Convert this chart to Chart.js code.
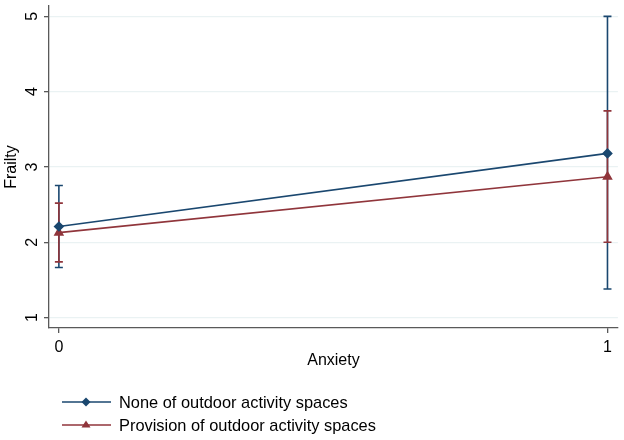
<!DOCTYPE html>
<html>
<head>
<meta charset="utf-8">
<script src="https://cdn.jsdelivr.net/npm/chart.js@4"></script>
<style>
  html, body { margin: 0; padding: 0; background: #fff; }
  #wrap { width: 624px; height: 440px; position: relative; }
</style>
</head>
<body>
<div id="wrap"><canvas id="chart"></canvas></div>
<script>
// Data
const anxiety = [0, 1];
const seriesNames = ['None of outdoor activity spaces', 'Provision of outdoor activity spaces'];
const noneMean = [2.21, 3.18];
const noneLow = [1.665, 1.38];
const noneHigh = [2.755, 5.0];
const provMean = [2.128, 2.87];
const provLow = [1.74, 2.0];
const provHigh = [2.52, 3.745];
const yTicks = [1, 2, 3, 4, 5];

const blue = '#1a476f';
const red = '#90353b';
const font = 'Liberation Sans, Arial, sans-serif';

function points(means) {
    return anxiety.map((x, i) => ({ x: x, y: means[i] }));
}

// Draw confidence interval caps through the chart scales
const errorBars = {
    id: 'errorBars',
    beforeDatasetsDraw(chart) {
        const ctx = chart.ctx;
        const xs = chart.scales.x, ys = chart.scales.y;
        const sets = [[noneLow, noneHigh, blue], [provLow, provHigh, red]];
        ctx.save();
        sets.forEach(([lo, hi, col]) => {
            ctx.strokeStyle = col;
            ctx.lineWidth = 1.6;
            anxiety.forEach((x, i) => {
                const px = xs.getPixelForValue(x);
                const pl = ys.getPixelForValue(lo[i]);
                const ph = ys.getPixelForValue(hi[i]);
                ctx.beginPath();
                ctx.moveTo(px, pl); ctx.lineTo(px, ph);
                ctx.moveTo(px - 4, pl); ctx.lineTo(px + 4, pl);
                ctx.moveTo(px - 4, ph); ctx.lineTo(px + 4, ph);
                ctx.stroke();
            });
        });
        ctx.restore();
    }
};

// Vertical y tick labels, Stata style
const yLabels = {
    id: 'yLabels',
    afterDraw(chart) {
        const ctx = chart.ctx;
        const ys = chart.scales.y;
        ctx.save();
        ctx.fillStyle = '#000';
        ctx.font = '16px ' + font;
        ctx.textAlign = 'center';
        ctx.textBaseline = 'alphabetic';
        yTicks.forEach(v => {
            const py = ys.getPixelForValue(v);
            ctx.save();
            ctx.translate(36.5, py);
            ctx.rotate(-Math.PI / 2);
            ctx.fillText(String(v), 0, 0);
            ctx.restore();
        });
        ctx.restore();
    }
};

// Legend below the plot: line with marker plus label
const bottomLegend = {
    id: 'bottomLegend',
    afterDraw(chart) {
        const ctx = chart.ctx;
        const rows = [[seriesNames[0], blue, 'diamond', 402], [seriesNames[1], red, 'triangle', 425]];
        ctx.save();
        rows.forEach(([label, col, shape, y]) => {
            ctx.strokeStyle = col;
            ctx.fillStyle = col;
            ctx.lineWidth = 1.6;
            ctx.beginPath();
            ctx.moveTo(62, y); ctx.lineTo(111, y);
            ctx.stroke();
            ctx.beginPath();
            if (shape === 'diamond') {
                ctx.moveTo(86, y - 4.5); ctx.lineTo(90.5, y); ctx.lineTo(86, y + 4.5); ctx.lineTo(81.5, y);
            } else {
                ctx.moveTo(86, y - 4.5); ctx.lineTo(90.5, y + 2.5); ctx.lineTo(81.5, y + 2.5);
            }
            ctx.closePath();
            ctx.fill();
            ctx.fillStyle = '#000';
            ctx.font = '16.4px ' + font;
            ctx.textBaseline = 'middle';
            ctx.textAlign = 'left';
            ctx.fillText(label, 119, y + 1);
        });
        ctx.restore();
    }
};

new Chart(document.getElementById('chart'), {
    type: 'line',
    data: {
        datasets: [{
            label: seriesNames[0],
            data: points(noneMean),
            borderColor: blue,
            backgroundColor: blue,
            borderWidth: 1.6,
            pointStyle: 'rectRot',
            pointRadius: 4.2,
            pointHoverRadius: 4.2
        }, {
            label: seriesNames[1],
            data: points(provMean),
            borderColor: red,
            backgroundColor: red,
            borderWidth: 1.6,
            pointStyle: 'triangle',
            pointRadius: 4.5,
            pointHoverRadius: 4.5
        }]
    },
    options: {
        responsive: true,
        maintainAspectRatio: false,
        animation: false,
        events: [],
        layout: { padding: { left: 0, top: 5, right: 6, bottom: 70 } },
        plugins: { legend: { display: false }, tooltip: { enabled: false } },
        scales: {
            x: {
                type: 'linear',
                min: -0.018,
                max: 1.019,
                afterBuildTicks: s => { s.ticks = anxiety.map(v => ({ value: v })); },
                ticks: { color: '#000', font: { family: font, size: 16 }, padding: 5 },
                grid: { drawOnChartArea: false, drawTicks: true, tickLength: 5, color: '#595959', lineWidth: 1.3 },
                border: { color: '#595959', width: 1.3 },
                title: { display: true, text: 'Anxiety', color: '#000', font: { family: font, size: 16 }, padding: { top: 0, bottom: 0 } },
                afterFit: s => { s.height = 42; }
            },
            y: {
                min: 0.862,
                max: 5.136,
                afterBuildTicks: s => { s.ticks = yTicks.map(v => ({ value: v })); },
                ticks: { display: false },
                grid: { color: '#eaf2f3', lineWidth: 1.3, drawTicks: true, tickLength: 5, tickColor: '#595959' },
                border: { color: '#595959', width: 1.3 },
                title: { display: true, text: 'Frailty', color: '#000', font: { family: font, size: 16 }, padding: { top: 2, bottom: 0 } },
                afterFit: s => { s.width = 49; }
            }
        }
    },
    plugins: [errorBars, yLabels, bottomLegend]
});
</script>
</body>
</html>
